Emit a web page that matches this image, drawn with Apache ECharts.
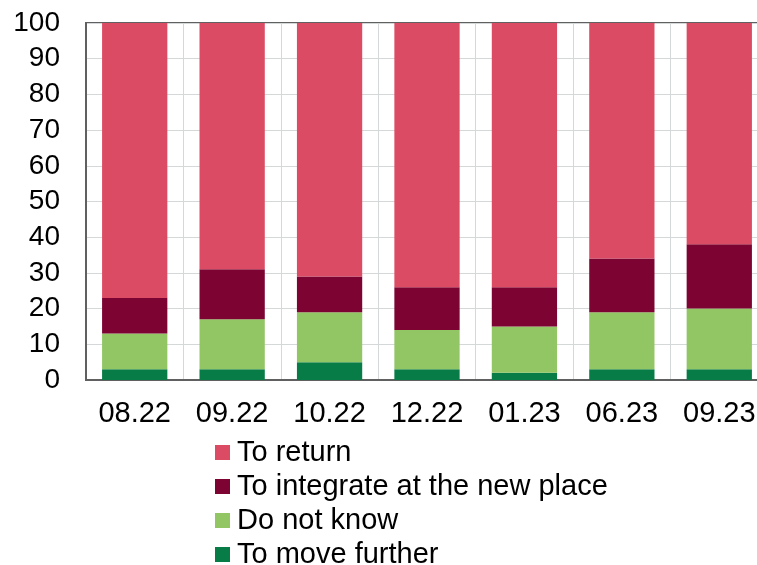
<!DOCTYPE html>
<html>
<head>
<meta charset="utf-8">
<script src="https://cdn.jsdelivr.net/npm/echarts@6/dist/echarts.min.js"></script>
<style>html,body{margin:0;padding:0;background:#fff}#c{width:757px;height:565px}</style>
</head>
<body>
<div id="c"></div>
<script>
const categories = ['08.22','09.22','10.22','12.22','01.23','06.23','09.23'];
const moveFurther = [3, 3, 5, 3, 2, 3, 3];
const doNotKnow = [10, 14, 14, 11, 13, 16, 17];
const integrate = [10, 14, 10, 12, 11, 15, 18];
const toReturn = [77, 69, 71, 74, 74, 66, 62];
const yTicks = {min: 0, max: 100, interval: 10};

const font = 'Liberation Sans, Arial, sans-serif';
const chart = echarts.init(document.getElementById('c'));
function s(name, data, color) {
  return {name, type: 'bar', stack: 'a', data, barCategoryGap: '33%',
    itemStyle: {color}, emphasis: {disabled: true}};
}
chart.setOption({
  animation: false,
  grid: {left: 86, top: 23, width: 682, height: 357, outerBoundsMode: 'none', show: true, borderColor: '#606060', borderWidth: 2, containLabel: false},
  legend: {
    orient: 'vertical', left: 210, top: 433, height: 140, itemWidth: 15, itemHeight: 15, itemGap: 5,
    icon: 'rect',
    textStyle: {fontFamily: font, fontSize: 29, color: '#000', padding: [0,0,0,2]},
    data: ['To return', 'To integrate at the new place', 'Do not know', 'To move further']
  },
  xAxis: {
    type: 'category', data: categories,
    axisLine: {lineStyle: {color: '#606060', width: 2}},
    axisTick: {inside: true, length: 6, lineStyle: {color: '#606060', width: 2}},
    axisLabel: {fontFamily: font, fontSize: 29, color: '#000', margin: 19},
    splitLine: {show: true, lineStyle: {color: '#d4d8d8', width: 1}}
  },
  yAxis: {
    type: 'value', min: yTicks.min, max: yTicks.max, interval: yTicks.interval,
    axisLine: {show: true, lineStyle: {color: '#606060', width: 2}},
    axisTick: {show: false},
    axisLabel: {fontFamily: font, fontSize: 28, color: '#000', margin: 26},
    splitLine: {lineStyle: {color: '#d4d8d8', width: 1}}
  },
  series: [
    s('To move further', moveFurther, '#077c46'),
    s('Do not know', doNotKnow, '#92c665'),
    s('To integrate at the new place', integrate, '#7c0332'),
    s('To return', toReturn, '#dc4b64')
  ]
});
</script>
</body>
</html>
